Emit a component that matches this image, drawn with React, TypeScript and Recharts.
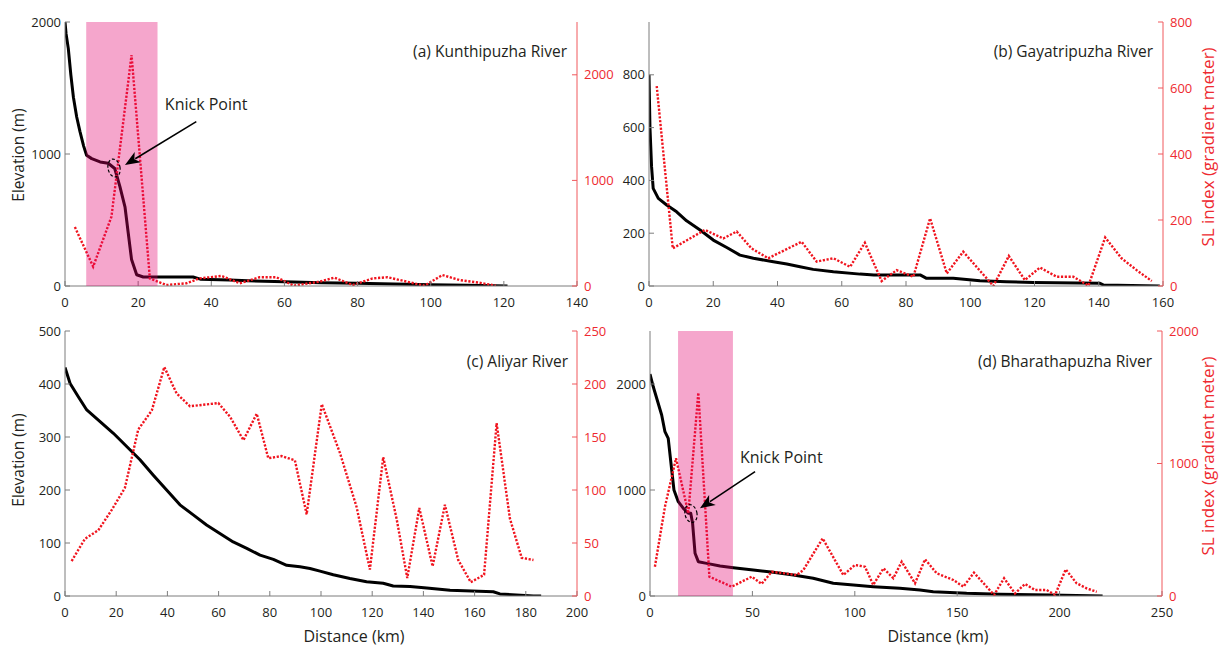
import React from "react";
import {
  LineChart,
  Line,
  XAxis,
  YAxis,
  ReferenceArea,
  ReferenceDot,
  ReferenceLine,
} from "recharts";

// (a) Kunthipuzha River
const kunthiElevKm = [0, 0.3, 0.9, 1.6, 2.3, 3.2, 4.1, 5.1, 5.9, 7.3, 9.6, 11.8, 13.6, 15, 16.4, 17.3, 18.2, 19.6, 21.4, 35, 37, 45, 50, 60, 70, 80, 90, 100, 110, 121];
const kunthiElev = [2000, 1910, 1800, 1600, 1430, 1280, 1170, 1060, 990, 965, 940, 930, 890, 755, 600, 400, 200, 85, 68, 68, 52, 45, 40, 32, 25, 20, 15, 10, 5, 0];
const kunthiSlKm = [2.7, 7.7, 12.7, 18.2, 23.2, 27.7, 33.2, 36.8, 42.8, 47.8, 53.2, 57.8, 62.5, 69.6, 73.7, 78.7, 84.1, 88.2, 98.3, 103.2, 107.8, 113.3, 117.8];
const kunthiSl = [558, 183, 656, 2187, 72, 9, 26, 72, 95, 26, 83, 83, 3, 41, 79, 9, 72, 83, 3, 104, 57, 31, 3];

// (b) Gayatripuzha River
const gayaElevKm = [0, 0.3, 0.8, 1.3, 2.9, 5.5, 8.6, 11.7, 15.9, 20, 24.2, 28.3, 32.5, 38.7, 42.9, 47, 51.1, 57.4, 65.7, 70, 84.4, 86.4, 94.7, 103, 111.3, 119.6, 140.4, 141.4, 159];
const gayaElev = [800, 600, 452, 370, 332, 307, 281, 247, 212, 174, 146, 117, 105, 92, 83, 73, 63, 54, 45, 42, 42, 29, 29, 20, 16, 13, 10, 4, 0];
const gayaSlKm = [2.4, 7.4, 17.4, 23.1, 27.3, 31.9, 37.1, 47.5, 52.2, 57.4, 62.6, 67.2, 72.4, 77.1, 82.3, 87.5, 92.7, 97.8, 107.2, 112, 117, 121.7, 126.9, 132.1, 136.8, 142, 147.1, 151.8, 156.5];
const gayaSl = [606, 114, 170, 144, 165, 114, 84, 134, 74, 84, 58, 131, 15, 48, 28, 205, 38, 104, 0, 91, 18, 56, 28, 28, 1, 147, 84, 48, 15];

// (c) Aliyar River
const aliyarElevKm = [0, 2, 5.2, 8.5, 13.7, 18.9, 24.1, 29.3, 34.5, 39.7, 44.9, 50.1, 55.3, 60.5, 65.7, 71, 76.2, 81.4, 86.6, 91.8, 95.7, 99.6, 104.8, 111.3, 117.8, 124.3, 128.2, 134.8, 141.3, 150.4, 167.3, 169.9, 183, 186];
const aliyarElev = [431, 401, 376, 351, 329, 307, 282, 257, 228, 200, 172, 153, 134, 118, 102, 90, 77, 69, 58, 55, 52, 47, 40, 33, 27, 24, 19, 18, 15, 11, 8, 4, 0, 0];
const aliyarSlKm = [2.6, 7.8, 13, 18.2, 23.4, 28.6, 33.9, 38.8, 43.6, 48.8, 59.9, 64.5, 69.7, 74.9, 79.4, 84.6, 89.8, 94.4, 100.3, 107.4, 113.9, 119.1, 124.3, 129.6, 133.7, 138.4, 143.6, 148.4, 153.6, 158.5, 163.7, 168.6, 173.8, 178.4, 183];
const aliyarSl = [33, 54, 62, 81, 102, 157, 175, 216, 191, 179, 182, 169, 147, 172, 130, 132, 128, 77, 181, 135, 84, 25, 131, 72, 17, 83, 28, 86, 34, 13, 20, 163, 73, 36, 34];

// (d) Bharathapuzha River
const bharaElevKm = [0, 1.6, 5.7, 7.3, 8.9, 10.6, 11.7, 13.8, 16.3, 18.7, 19.9, 20.8, 22, 23.6, 27.7, 34.2, 40.7, 50.4, 60.2, 70, 79.7, 89.5, 99.3, 109, 122, 131.8, 138.3, 154.6, 170.9, 195.3, 221];
const bharaElev = [2094, 1974, 1708, 1550, 1487, 1189, 1000, 890, 827, 780, 780, 686, 403, 324, 308, 283, 267, 245, 223, 198, 167, 120, 104, 88, 72, 57, 41, 25, 17, 9, 0];
const bharaSlKm = [2.4, 7.3, 12.7, 18.7, 23.6, 29, 39.9, 49.7, 54.5, 59.4, 65.9, 71.6, 74.9, 84.3, 94.4, 100.1, 105, 109, 114, 118.8, 122.9, 129.4, 134.3, 140, 148.1, 153, 158.2, 168, 172.9, 178.2, 183.1, 188, 193.7, 197.8, 203, 208.3, 213.2, 218.1];
const bharaSl = [221, 674, 1039, 624, 1535, 146, 70, 146, 91, 183, 171, 158, 196, 435, 158, 234, 221, 83, 209, 134, 259, 96, 277, 171, 121, 70, 176, 8, 134, 20, 91, 45, 45, 8, 201, 96, 58, 32];

const toRows = (km: number[], vals: number[]) => km.map((d, i) => ({ d, v: vals[i] }));

const INK = "#231F20";
const AXIS = "#7d7d7d";
const RED = "#F0141E";
const RED_AXIS = "#F0595C";
const RED_TEXT = "#EE2A30";
const FONT = "'Open Sans', sans-serif";

const Arrow = (props: any) => {
  const { x1, y1, x2, y2 } = props;
  const a = Math.atan2(y2 - y1, x2 - x1);
  const len = 15;
  const half = 6;
  const bx = x2 - len * Math.cos(a);
  const by = y2 - len * Math.sin(a);
  const nx = -Math.sin(a);
  const ny = Math.cos(a);
  const pts = `${x2},${y2} ${bx + nx * half},${by + ny * half} ${x2 - (len - 4) * Math.cos(a)},${y2 - (len - 4) * Math.sin(a)} ${bx - nx * half},${by - ny * half}`;
  return (
    <g>
      <line x1={x1} y1={y1} x2={bx + 3 * Math.cos(a)} y2={by + 3 * Math.sin(a)} stroke="#000" strokeWidth={1.6} />
      <polygon points={pts} fill="#000" />
    </g>
  );
};

const Ring = (props: any) => (
  <ellipse
    cx={props.cx}
    cy={props.cy}
    rx={6}
    ry={9}
    transform={`rotate(-12 ${props.cx} ${props.cy})`}
    fill="none"
    stroke="#000"
    strokeWidth={1.2}
    strokeDasharray="3 2"
  />
);

const KnickText = (props: any) => (
  <text x={props.cx} y={props.cy} dominantBaseline="central" fontSize={16} fill={INK} fontFamily={FONT}>
    Knick Point
  </text>
);

type Knick = { ring: [number, number]; from: [number, number]; to: [number, number]; text: [number, number] };

type PanelProps = {
  box: { x: number; y: number; w: number; h: number };
  margin: { top: number; right: number; bottom: number; left: number };
  leftW: number;
  rightW: number;
  xDomain: [number, number];
  xTicks: number[];
  xTickMargin: number;
  elevDomain: [number, number];
  elevTicks: number[];
  slDomain: [number, number];
  slTicks: number[];
  elev: { d: number; v: number }[];
  sl: { d: number; v: number }[];
  title: string;
  titleAt: [number, number];
  band?: [number, number];
  knick?: Knick;
  texts?: { text: string; x: number; y: number; color: string; size: number; vertical?: boolean }[];
};

function Panel(p: PanelProps) {
  return (
    <div style={{ position: "absolute", left: p.box.x, top: p.box.y }}>
      <LineChart width={p.box.w} height={p.box.h} margin={p.margin}>
        <XAxis
          xAxisId="top"
          orientation="top"
          type="number"
          domain={p.xDomain}
          ticks={p.xTicks}
          tick={false}
          height={0}
          tickSize={-5}
          stroke={AXIS}
          allowDataOverflow
        />
        <XAxis
          type="number"
          dataKey="d"
          domain={p.xDomain}
          ticks={p.xTicks}
          tickSize={-5}
          tickMargin={p.xTickMargin}
          stroke={AXIS}
          tick={{ fill: INK, fontSize: 13 }}
          height={30}
          allowDataOverflow
        />
        <YAxis
          yAxisId="elev"
          type="number"
          domain={p.elevDomain}
          ticks={p.elevTicks}
          width={p.leftW}
          tickSize={-5}
          tickMargin={9}
          stroke={AXIS}
          tick={{ fill: INK, fontSize: 13 }}
          allowDataOverflow
        />
        <YAxis
          yAxisId="sl"
          orientation="right"
          type="number"
          domain={p.slDomain}
          ticks={p.slTicks}
          width={p.rightW}
          tickSize={-5}
          tickMargin={12}
          stroke={RED_AXIS}
          tick={{ fill: RED_TEXT, fontSize: 13 }}
          allowDataOverflow
        />
        <Line
          yAxisId="elev"
          data={p.elev}
          dataKey="v"
          type="linear"
          stroke="#000"
          strokeWidth={3}
          strokeLinejoin="round"
          dot={false}
          isAnimationActive={false}
        />
        <Line
          yAxisId="sl"
          data={p.sl}
          dataKey="v"
          type="linear"
          stroke={RED}
          strokeWidth={2.4}
          strokeDasharray="2.2 1.6"
          dot={false}
          isAnimationActive={false}
        />
        {p.band && (
          <ReferenceArea
            yAxisId="elev"
            x1={p.band[0]}
            x2={p.band[1]}
            fill="#E1006E"
            fillOpacity={0.35}
            stroke="none"
            zIndex={1000}
          />
        )}
        {p.knick && (
          <ReferenceDot yAxisId="elev" x={p.knick.ring[0]} y={p.knick.ring[1]} shape={Ring} zIndex={1100} />
        )}
        {p.knick && (
          <ReferenceLine
            yAxisId="elev"
            segment={[
              { x: p.knick.from[0], y: p.knick.from[1] },
              { x: p.knick.to[0], y: p.knick.to[1] },
            ]}
            shape={Arrow}
            zIndex={1100}
          />
        )}
        {p.knick && (
          <ReferenceDot yAxisId="elev" x={p.knick.text[0]} y={p.knick.text[1]} shape={KnickText} zIndex={1100} />
        )}
        <text
          x={p.titleAt[0]}
          y={p.titleAt[1]}
          textAnchor="end"
          dominantBaseline="central"
          fontSize={15.5}
          fill={INK}
          fontFamily={FONT}
        >
          {p.title}
        </text>
        {(p.texts || []).map((t, i) => (
          <text
            key={i}
            x={t.x}
            y={t.y}
            textAnchor="middle"
            dominantBaseline="central"
            fontSize={t.size}
            fill={t.color}
            fontFamily={FONT}
            transform={t.vertical ? `rotate(-90 ${t.x} ${t.y})` : undefined}
          >
            {t.text}
          </text>
        ))}
      </LineChart>
    </div>
  );
}

export default function App() {
  return (
    <div
      style={{
        position: "absolute",
        left: 0,
        top: 0,
        width: 1219,
        height: 646,
        background: "#fff",
        fontFamily: FONT,
      }}
    >
      <Panel
        box={{ x: 0, y: 0, w: 625, h: 322 }}
        margin={{ top: 22, right: 8, bottom: 6, left: 5 }}
        leftW={60}
        rightW={40}
        xDomain={[0, 140]}
        xTicks={[0, 20, 40, 60, 80, 100, 120, 140]}
        xTickMargin={17}
        elevDomain={[0, 2000]}
        elevTicks={[0, 1000, 2000]}
        slDomain={[0, 2500]}
        slTicks={[0, 1000, 2000]}
        elev={toRows(kunthiElevKm, kunthiElev)}
        sl={toRows(kunthiSlKm, kunthiSl)}
        title="(a) Kunthipuzha River"
        titleAt={[567, 51]}
        band={[5.8, 25.3]}
        knick={{ ring: [13.4, 894], from: [35.9, 1245], to: [16.4, 917], text: [27.3, 1379] }}
        texts={[{ text: "Elevation (m)", x: 18, y: 155, color: INK, size: 15.5, vertical: true }]}
      />
      <Panel
        box={{ x: 594, y: 0, w: 625, h: 322 }}
        margin={{ top: 22, right: 16, bottom: 6, left: 5 }}
        leftW={50}
        rightW={40}
        xDomain={[0, 160]}
        xTicks={[0, 20, 40, 60, 80, 100, 120, 140, 160]}
        xTickMargin={17}
        elevDomain={[0, 1000]}
        elevTicks={[0, 200, 400, 600, 800]}
        slDomain={[0, 800]}
        slTicks={[0, 200, 400, 600, 800]}
        elev={toRows(gayaElevKm, gayaElev)}
        sl={toRows(gayaSlKm, gayaSl)}
        title="(b) Gayatripuzha River"
        titleAt={[559, 51]}
        texts={[{ text: "SL index (gradient meter)", x: 613, y: 147, color: RED_TEXT, size: 17, vertical: true }]}
      />
      <Panel
        box={{ x: 0, y: 322, w: 625, h: 324 }}
        margin={{ top: 9, right: 8, bottom: 20, left: 5 }}
        leftW={60}
        rightW={40}
        xDomain={[0, 200]}
        xTicks={[0, 20, 40, 60, 80, 100, 120, 140, 160, 180, 200]}
        xTickMargin={17}
        elevDomain={[0, 500]}
        elevTicks={[0, 100, 200, 300, 400, 500]}
        slDomain={[0, 250]}
        slTicks={[0, 50, 100, 150, 200, 250]}
        elev={toRows(aliyarElevKm, aliyarElev)}
        sl={toRows(aliyarSlKm, aliyarSl)}
        title="(c) Aliyar River"
        titleAt={[568, 39]}
        texts={[
          { text: "Elevation (m)", x: 18, y: 138, color: INK, size: 15.5, vertical: true },
          { text: "Distance (km)", x: 354, y: 314, color: INK, size: 16 },
        ]}
      />
      <Panel
        box={{ x: 594, y: 322, w: 625, h: 324 }}
        margin={{ top: 9, right: 17, bottom: 20, left: 6 }}
        leftW={50}
        rightW={40}
        xDomain={[0, 250]}
        xTicks={[0, 50, 100, 150, 200, 250]}
        xTickMargin={17}
        elevDomain={[0, 2500]}
        elevTicks={[0, 1000, 2000]}
        slDomain={[0, 2000]}
        slTicks={[0, 1000, 2000]}
        elev={toRows(bharaElevKm, bharaElev)}
        sl={toRows(bharaSlKm, bharaSl)}
        title="(d) Bharathapuzha River"
        titleAt={[558, 39]}
        band={[13.7, 40.5]}
        knick={{ ring: [20, 778], from: [51.3, 1173], to: [24.4, 827], text: [43.9, 1311] }}
        texts={[
          { text: "SL index (gradient meter)", x: 613, y: 134, color: RED_TEXT, size: 17, vertical: true },
          { text: "Distance (km)", x: 344, y: 314, color: INK, size: 16 },
        ]}
      />
    </div>
  );
}
